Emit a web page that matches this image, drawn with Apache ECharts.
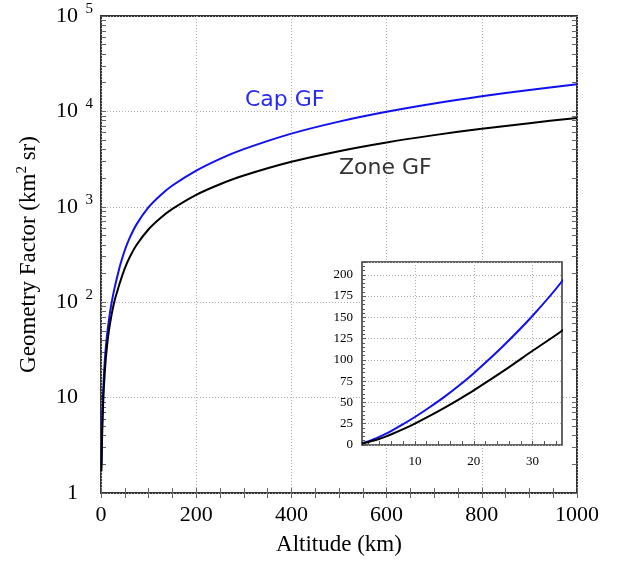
<!DOCTYPE html>
<html><head><meta charset="utf-8">
<script src="https://cdn.jsdelivr.net/npm/echarts@6/dist/echarts.min.js"></script>
<style>html,body{margin:0;padding:0;background:#fff}#c{width:625px;height:562px}</style>
</head><body><div id="c"></div>
<script>
// ---- data ----
const altitude = [1,2,3,4,5,6,8,10,12.5,15,17.5,20,25,30,35,40,50,60,75,100,125,150,200,250,300,400,500,600,700,800,900,1000];
const capGF  = [2.0,4.2,6.8,9.8,13.1,16.7,24.5,32.9,44.4,56.6,69.9,84.4,116.4,151.9,192.4,242,350,469,658,990,1323,1671,2394,3185,4022,5846,7814,9904,12100,14395,16776,19239];
const zoneGF = [1.7,3.3,5.2,7.4,9.9,12.6,18.6,25.2,34.2,43.7,53.7,64.2,86.7,110.7,134.2,162,226,294,400,582,764,951,1335,1725,2128,2963,3830,4724,5640,6576,7530,8550];
const mainXLabels = [0,200,400,600,800,1000];
const mainYDecades = [1,10,100,1000,10000,100000];
const insetXLabels = [10,20,30];
const insetXMinor = [2,4,6,8,10,12,14,16,18,20,22,24,26,28,30,32,34];

const serif = 'Liberation Serif';
const capPairs = altitude.map((a,i)=>[a,capGF[i]]);
const zonePairs = altitude.map((a,i)=>[a,zoneGF[i]]);
// tick positions for log axis (in log10 space, for tick-only axes)
const logTicks = [];
for (let d=0; d<5; d++) for (let k=1; k<10; k++) logTicks.push(d + Math.log10(k));
logTicks.push(5);

const gridLine = {show:true, lineStyle:{color:'#b0b0b0', type:[1,2], width:1}};
const chart = echarts.init(document.getElementById('c'), null, {renderer:'canvas'});
chart.setOption({
  animation:false,
  backgroundColor:'#fff',
  grid:[
    {left:101, top:16, width:476, height:477, show:true, borderColor:'#333', borderWidth:2, backgroundColor:'transparent'},
    {left:362, top:262, width:200, height:183, show:true, borderColor:'#333', borderWidth:1.5, backgroundColor:'#fff', z:3}
  ],
  xAxis:[
    {type:'value', gridIndex:0, min:0, max:1000, interval:200, position:'bottom',
     axisLine:{show:false}, axisTick:{show:true, inside:true, length:5, lineStyle:{color:'#666'}},
     minorTick:{show:true, splitNumber:4, length:5, lineStyle:{color:'#666'}},
     splitLine:gridLine,
     axisLabel:{fontFamily:serif, fontSize:22, color:'#000', margin:11, formatter:function(v){return String(v);}},
     name:'Altitude (km)', nameLocation:'middle', nameGap:40,
     nameTextStyle:{fontFamily:serif, fontSize:23, color:'#000'}},
    {type:'value', gridIndex:0, min:0, max:1000, interval:200, position:'top',
     axisLine:{show:false}, axisTick:{show:true, inside:true, length:5, lineStyle:{color:'#666'}},
     minorTick:{show:true, splitNumber:4, length:5, lineStyle:{color:'#666'}},
     splitLine:{show:false}, axisLabel:{show:false}},
    {type:'value', gridIndex:1, min:1, max:35, position:'bottom', z:4,
     axisLine:{show:false},
     axisTick:{show:false, customValues:insetXLabels},
     axisLabel:{customValues:insetXLabels, fontFamily:serif, fontSize:13, color:'#000', margin:10},
     splitLine:gridLine},
    {type:'value', gridIndex:1, min:1, max:35, position:'bottom', offset:0, z:4,
     axisLine:{show:false},
     axisTick:{show:true, inside:true, length:4, customValues:insetXMinor, lineStyle:{color:'#555'}},
     axisLabel:{show:false}, splitLine:{show:false}}
  ],
  yAxis:[
    {type:'log', logBase:10, gridIndex:0, min:1, max:100000, position:'left',
     axisLine:{show:false}, axisTick:{show:false}, splitLine:gridLine,
     axisLabel:{margin:8, color:'#000',
       formatter:function(v){
         const e = Math.round(Math.log10(v));
         if (e===0) return '{b|1}{e| }';
         if (e===1) return '{b|10}{e| }';
         return '{b|10}{s|'+e+'}';
       },
       rich:{
         b:{fontFamily:serif, fontSize:22, color:'#000'},
         s:{fontFamily:serif, fontSize:15, color:'#000', width:9, padding:[0,0,14,6]},
         e:{width:15}
       }},
     name:'Geometry Factor (km{s|2} sr)', nameLocation:'middle', nameGap:58,
     nameTextStyle:{fontFamily:serif, fontSize:23, color:'#000',
       rich:{s:{fontFamily:serif, fontSize:15, color:'#000', padding:[0,0,13,0]}}}},
    {type:'value', gridIndex:0, min:0, max:5, position:'left', offset:0,
     axisLine:{show:false}, splitLine:{show:false}, axisLabel:{show:false},
     axisTick:{show:true, inside:true, length:5, customValues:logTicks, lineStyle:{color:'#666'}}},
    {type:'value', gridIndex:0, min:0, max:5, position:'right', offset:0,
     axisLine:{show:false}, splitLine:{show:false}, axisLabel:{show:false},
     axisTick:{show:true, inside:true, length:5, customValues:logTicks, lineStyle:{color:'#666'}}},
    {type:'value', gridIndex:1, min:0, max:215, interval:25, position:'left', z:4,
     axisLine:{show:false},
     axisTick:{show:true, inside:true, length:4, lineStyle:{color:'#555'}},
     minorTick:{show:true, splitNumber:5, length:3, lineStyle:{color:'#555'}},
     splitLine:gridLine,
     axisLabel:{fontFamily:serif, fontSize:13, color:'#000', margin:9, showMaxLabel:false}}
  ],
  series:[
    {type:'line', name:'Cap GF', xAxisIndex:0, yAxisIndex:0, data:capPairs, showSymbol:false, smooth:0.3,
     lineStyle:{color:'#1010f0', width:2}, z:2},
    {type:'line', name:'Zone GF', xAxisIndex:0, yAxisIndex:0, data:zonePairs, showSymbol:false, smooth:0.3,
     lineStyle:{color:'#000', width:2}, z:2},
    {type:'line', name:'Cap GF inset', xAxisIndex:2, yAxisIndex:3, data:capPairs, showSymbol:false, smooth:0.3,
     lineStyle:{color:'#1010f0', width:2}, z:6},
    {type:'line', name:'Zone GF inset', xAxisIndex:2, yAxisIndex:3, data:zonePairs, showSymbol:false, smooth:0.3,
     lineStyle:{color:'#000', width:2}, z:6}
  ],
  graphic:[
    {type:'text', left:245, top:89, z:10, style:{text:'Cap GF', fill:'#2a2af0', fontFamily:'DejaVu Sans', fontSize:22}},
    {type:'text', left:339, top:157, z:10, style:{text:'Zone GF', fill:'#333', fontFamily:'DejaVu Sans', fontSize:22}}
  ]
});
</script></body></html>
